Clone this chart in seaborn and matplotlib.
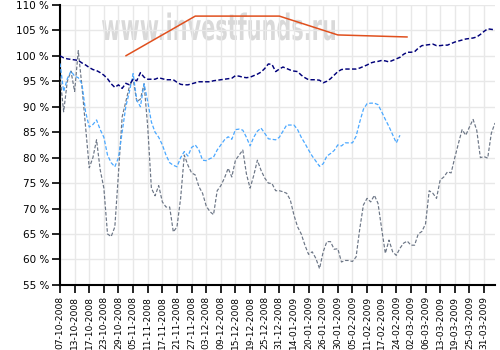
import matplotlib
matplotlib.use("Agg")
import matplotlib.pyplot as plt
import seaborn as sns
import numpy as np
import pandas as pd
from matplotlib.textpath import TextPath
from matplotlib.patches import PathPatch
from matplotlib.font_manager import FontProperties
from matplotlib.transforms import Affine2D, IdentityTransform

tick_labels = ["07-10-2008", "13-10-2008", "17-10-2008", "23-10-2008", "29-10-2008",
               "05-11-2008", "11-11-2008", "17-11-2008", "21-11-2008", "27-11-2008",
               "03-12-2008", "09-12-2008", "15-12-2008", "19-12-2008", "25-12-2008",
               "31-12-2008", "14-01-2009", "20-01-2009", "26-01-2009", "30-01-2009",
               "05-02-2009", "11-02-2009", "17-02-2009", "24-02-2009", "02-03-2009",
               "06-03-2009", "13-03-2009", "19-03-2009", "25-03-2009", "31-03-2009"]

navy = [100, 99.6, 99.4, 99.3, 99.2, 99.1, 98.6, 98.2, 97.7, 97.3,
        97.1, 96.7, 96.2, 95.5, 94.5, 93.8, 94.3, 93.6, 94.6, 94.3,
        95.4, 95.1, 96.7, 95.8, 95.4, 95.4, 95.4, 95.7, 95.5, 95.3,
        95.3, 95.3, 94.8, 94.4, 94.3, 94.3, 94.5, 94.7, 94.9, 94.9,
        94.9, 94.9, 95.1, 95.2, 95.3, 95.4, 95.5, 95.6, 96.1, 96.0,
        95.8, 95.7, 95.8, 96.1, 96.4, 96.8, 97.5, 98.4, 98.3, 96.9,
        97.4, 97.8, 97.5, 97.2, 97.0, 96.9, 96.2, 95.7, 95.3, 95.3,
        95.3, 95.2, 94.7, 95.0, 95.5, 96.2, 96.9, 97.3, 97.4, 97.4,
        97.4, 97.4, 97.6, 97.9, 98.2, 98.6, 98.8, 98.9, 99.1, 99.0,
        98.8, 99.1, 99.4, 99.7, 100.3, 100.7, 100.7, 100.8, 101.5, 102.0,
        102.1, 102.2, 102.3, 102.0, 102.0, 102.1, 102.1, 102.4, 102.7, 102.9,
        103.1, 103.3, 103.4, 103.5, 103.7, 104.2, 104.8, 105.3, 105.2, 105.1]

light = [98.5, 93, 95.5, 97, 96, 95.7, 94.5, 89, 86, 86.5,
         87.4, 85.5, 84, 80.5, 79, 78.2, 80, 85, 90, 93,
         96.5, 91.3, 90, 94.5, 91, 87, 85, 84, 82.5, 80.5,
         79, 78.5, 78.2, 80, 81.2, 80.3, 82, 82.5, 81.5, 79.5,
         79.4, 79.8, 80.1, 81.5, 82.5, 83.5, 84.1, 83.6, 85.5, 85.6,
         85.4, 84, 82.3, 84, 85.2, 85.8, 84.8, 83.7, 83.6, 83.5,
         84, 85.2, 86.4, 86.4, 86.4, 85.5, 84, 82.8, 81.5, 80.3,
         79.3, 78.3, 78.8, 80.3, 80.8, 81.4, 82.5, 82.3, 82.9, 82.9,
         82.9, 84.2, 87, 89.5, 90.6, 90.7, 90.7, 90.4, 89, 87.5,
         86.1, 84.5, 82.9, 84.4]

grey = [96, 89, 95, 97, 93, 101, 94, 86, 78, 80,
        83.5, 77.6, 74, 65, 64.5, 66.4, 77, 88, 91, 94,
        95.5, 91, 91.5, 94.5, 86, 74, 72.5, 74.5, 71.3, 70.3,
        70.3, 65.4, 66.4, 72, 80.5, 78.5, 77, 76.6, 74.3, 73,
        70.5, 69.4, 68.8, 73.5, 74.5, 76, 77.9, 76.2, 79.5, 80.5,
        81.5, 76.8, 74, 76.5, 79.5, 77.5, 76, 75, 74.9, 73.5,
        73.5, 73.3, 73, 71.7, 68.7, 66.4, 65, 62.8, 61, 61.5,
        60.2, 58.2, 61.5, 63.5, 63.5, 62, 62.1, 59.5, 59.8, 59.8,
        59.6, 60.5, 66, 70.7, 72, 71.3, 72.6, 71, 66, 61.2,
        63.8, 61.5, 60.8, 62.2, 63.2, 63.6, 62.8, 62.8, 65, 65.5,
        67, 73.5, 73, 72, 75.6, 76.2, 77.2, 77, 80, 82.8,
        85.5, 84.4, 86, 87.5, 85.4, 80, 80.2, 79.9, 84.8, 86.8]

orange_x = [18, 37, 60, 76, 95]
orange_y = [100, 107.8, 107.8, 104.1, 103.7]

watermark = "www.investfunds.ru"

sns.set_style("white")
fig = plt.figure(figsize=(5, 3.5), dpi=100)
ax = fig.add_axes([0.12, 0.186, 0.87, 0.80])

# watermark, stretched to a tall condensed shape (in figure pixels)
tp = TextPath((0, 0), watermark, size=20,
              prop=FontProperties(family="DejaVu Sans", weight="bold"))
ext = tp.get_extents()
sx = 233.0 / ext.width
sy = 28.0 / ext.height
tr = Affine2D().translate(-ext.x0, -ext.y0).scale(sx, sy).translate(102, 309.5)
wm = PathPatch(tr.transform_path(tp), facecolor="#d9d9d9", edgecolor="none",
               transform=IdentityTransform(), zorder=0.3, clip_on=False)
ax.add_artist(wm)

df_grey = pd.DataFrame({"i": np.arange(len(grey)), "v": grey})
df_light = pd.DataFrame({"i": np.arange(len(light)), "v": light})
df_navy = pd.DataFrame({"i": np.arange(len(navy)), "v": navy})
df_or = pd.DataFrame({"i": orange_x, "v": orange_y})

dash = (0, (3, 1.6))
sns.lineplot(data=df_grey, x="i", y="v", ax=ax, color="#6b7585", lw=0.85, linestyle=dash, zorder=3)
sns.lineplot(data=df_light, x="i", y="v", ax=ax, color="#4aa8ff", lw=0.9, linestyle=dash, zorder=3)
sns.lineplot(data=df_navy, x="i", y="v", ax=ax, color="#00007a", lw=1.05, linestyle=dash, zorder=3)
sns.lineplot(data=df_or, x="i", y="v", ax=ax, color="#e0501e", lw=1.1, zorder=4)

ax.patch.set_alpha(0)
ax.set_xlim(0, 119)
ax.set_ylim(55, 110)
ax.set_xticks(np.arange(len(tick_labels)) * 4)
ax.set_xticklabels(tick_labels, rotation=90, fontsize=6.6)
yt = np.arange(55, 111, 5)
ax.set_yticks(yt)
ax.set_yticklabels([f"{v} %" for v in yt], fontsize=7.5)
ax.set_xlabel("")
ax.set_ylabel("")
ax.grid(True, color="#e8e8e8", lw=1, zorder=0.5)
ax.set_axisbelow(True)
for s in ["top", "right"]:
    ax.spines[s].set_visible(False)
for s in ["left", "bottom"]:
    ax.spines[s].set_color("black")
    ax.spines[s].set_linewidth(1.5)
ax.tick_params(axis="both", which="major", direction="out", length=6, width=1.2,
               color="black", labelcolor="black", bottom=True, left=True, pad=2)

fig.savefig("out.png", dpi=100, facecolor="white")
